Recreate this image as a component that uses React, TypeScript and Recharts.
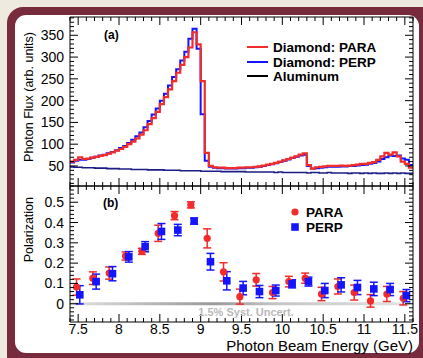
import React from "react";
import { ComposedChart, Line, Scatter, ErrorBar, XAxis, YAxis, ReferenceArea } from "recharts";

const FONT = "'Liberation Sans', Arial, Helvetica, sans-serif";
const RED = "#f22b2b";
const BLUE = "#1414ff";
const NAVY = "#1c1c86";

// flux histograms: 84 bins of 0.05 GeV starting at 7.40 GeV
const BIN_START = 7.4;
const BIN_WIDTH = 0.05;

const FLUX_PARA = [
  60, 64, 70, 66, 67, 69, 71, 73, 75, 78,
  81, 85, 89, 94, 100, 106, 113, 122, 132, 146,
  160, 174, 192, 208, 226, 245, 264, 282, 300, 322,
  357, 329, 245, 80, 50, 47, 46, 46, 45, 45,
  45, 46, 46, 47, 47, 48, 49, 51, 53, 55,
  57, 60, 63, 66, 69, 72, 76, 79, 52, 44,
  47, 48, 49, 50, 50, 50, 51, 50, 51, 52,
  53, 55, 55, 57, 59, 64, 72, 80, 76, 81,
  72, 60, 55, 46,
];

const FLUX_PERP = [
  58, 62, 64, 64, 66, 69, 71, 74, 76, 79,
  82, 86, 91, 96, 103, 110, 118, 127, 139, 153,
  168, 182, 200, 216, 235, 254, 272, 292, 312, 342,
  365, 319, 169, 62, 48, 46, 45, 45, 44, 44,
  44, 45, 45, 46, 46, 47, 48, 50, 52, 54,
  56, 59, 62, 65, 68, 71, 74, 76, 50, 44,
  45, 46, 47, 48, 48, 48, 49, 49, 50, 50,
  51, 52, 53, 55, 57, 60, 66, 70, 74, 73,
  74, 67, 64, 52,
];

const FLUX_AL = [
  48, 47, 47, 46, 46, 46, 45, 45, 45, 44,
  44, 44, 43, 43, 43, 42, 42, 42, 42, 41,
  41, 41, 41, 40, 40, 40, 40, 39, 39, 39,
  39, 39, 38, 38, 38, 38, 38, 37, 37, 37,
  37, 37, 37, 36, 36, 36, 36, 36, 36, 36,
  35, 36, 35, 35, 35, 35, 35, 35, 34, 35,
  35, 34, 34, 35, 34, 34, 34, 34, 33, 34,
  34, 33, 34, 33, 34, 33, 33, 34, 33, 34,
  33, 34, 33, 33,
];

// polarization points (PARA and PERP are drawn slightly offset in energy)
const PARA_E = [7.48, 7.68, 7.88, 8.08, 8.28, 8.48, 8.68, 8.88, 9.08, 9.28, 9.48, 9.68, 9.88, 10.08, 10.28, 10.48, 10.68, 10.88, 11.08, 11.28, 11.48];
const PARA_P = [0.082, 0.126, 0.151, 0.235, 0.258, 0.347, 0.434, 0.487, 0.322, 0.157, 0.035, 0.118, 0.055, 0.109, 0.126, 0.048, 0.085, 0.055, 0.014, 0.048, 0.027];
const PARA_ERR = [0.04, 0.031, 0.03, 0.02, 0.015, 0.04, 0.02, 0.015, 0.047, 0.045, 0.037, 0.031, 0.03, 0.026, 0.025, 0.033, 0.037, 0.037, 0.031, 0.037, 0.033];

const PERP_E = [7.52, 7.72, 7.92, 8.12, 8.32, 8.52, 8.72, 8.92, 9.12, 9.32, 9.52, 9.72, 9.92, 10.12, 10.32, 10.52, 10.72, 10.92, 11.12, 11.32, 11.52];
const PERP_P = [0.044, 0.109, 0.148, 0.231, 0.281, 0.356, 0.363, 0.407, 0.207, 0.113, 0.077, 0.06, 0.065, 0.098, 0.109, 0.065, 0.093, 0.08, 0.073, 0.07, 0.04];
const PERP_ERR = [0.045, 0.037, 0.035, 0.026, 0.025, 0.039, 0.028, 0.015, 0.041, 0.045, 0.033, 0.03, 0.027, 0.02, 0.022, 0.035, 0.035, 0.035, 0.033, 0.03, 0.03];

// axis ticks
const E_MAJOR = [7.5, 8, 8.5, 9, 9.5, 10, 10.5, 11, 11.5];
const FLUX_MAJOR = [50, 100, 150, 200, 250, 300, 350];
const POL_MAJOR = [0, 0.1, 0.2, 0.3, 0.4, 0.5];

const E_DOMAIN: [number, number] = [7.4, 11.6];
const FLUX_DOMAIN: [number, number] = [4, 392];
const POL_DOMAIN: [number, number] = [-0.09, 0.58];

const SYST = 0.015;

function fineTicks(lo: number, hi: number, step: number) {
  const out: number[] = [];
  for (let v = lo; v <= hi + 1e-9; v += step) out.push(Math.round(v * 1000) / 1000);
  return out;
}

const E_TICKS = fineTicks(7.4, 11.6, 0.1);
const FLUX_TICKS = fineTicks(10, 390, 10);
const POL_TICKS = fineTicks(-0.08, 0.58, 0.02);

const fluxRows = FLUX_PARA.map((_, i) => ({
  e: Math.round((BIN_START + i * BIN_WIDTH) * 1000) / 1000,
  para: FLUX_PARA[i],
  perp: FLUX_PERP[i],
  al: FLUX_AL[i],
}));
// closing edge so the last bin gets its full width
fluxRows.push({ ...fluxRows[fluxRows.length - 1], e: E_DOMAIN[1] });

const paraRows = PARA_E.map((e, i) => ({ e, p: PARA_P[i], err: PARA_ERR[i] }));
const perpRows = PERP_E.map((e, i) => ({ e, p: PERP_P[i], err: PERP_ERR[i] }));

type Side = "bottom" | "top" | "left" | "right";

// ROOT-style ticks: pointing into the frame, long on majors
function makeTick(side: Side, majors: number[], withLabel: boolean) {
  return (props: any) => {
    const { x, y, payload } = props;
    const v = payload.value;
    const major = majors.some((m) => Math.abs(m - v) < 1e-6);
    const len = major ? 8 : 4;
    let x2 = x;
    let y2 = y;
    if (side === "bottom") y2 = y - len;
    if (side === "top") y2 = y + len;
    if (side === "left") x2 = x + len;
    if (side === "right") x2 = x - len;
    let label = null;
    if (withLabel && major) {
      label =
        side === "bottom" ? (
          <text x={x} y={y + 12} textAnchor="middle" fontSize={14} fontFamily={FONT} fill="#000">
            {String(v)}
          </text>
        ) : (
          <text x={x - 6} y={y + 5} textAnchor="end" fontSize={14} fontFamily={FONT} fill="#000">
            {String(v)}
          </text>
        );
    }
    return (
      <g>
        <line x1={x} y1={y} x2={x2} y2={y2} stroke="#000" strokeWidth={1} />
        {label}
      </g>
    );
  };
}

const axisCommon = {
  tickSize: 0,
  tickMargin: 0,
  tickLine: false,
  interval: 0 as const,
  allowDataOverflow: true,
  axisLine: { stroke: "#000", strokeWidth: 1 },
};

// frame: x 70..413; panel (a) y 17..186, panel (b) y 186..322
function FluxPanel() {
  return (
    <ComposedChart width={423} height={358} data={fluxRows} margin={{ top: 16, right: 9, bottom: 171, left: 0 }}>
      <XAxis xAxisId="x" type="number" dataKey="e" domain={E_DOMAIN} ticks={E_TICKS} height={1} orientation="bottom" tick={makeTick("bottom", E_MAJOR, false)} {...axisCommon} />
      <XAxis xAxisId="xt" type="number" dataKey="e" domain={E_DOMAIN} ticks={E_TICKS} height={1} orientation="top" tick={makeTick("top", E_MAJOR, false)} {...axisCommon} />
      <YAxis yAxisId="y" type="number" domain={FLUX_DOMAIN} ticks={FLUX_TICKS} width={70} orientation="left" tick={makeTick("left", FLUX_MAJOR, true)} {...axisCommon} />
      <YAxis yAxisId="yr" type="number" domain={FLUX_DOMAIN} ticks={FLUX_TICKS} width={1} orientation="right" tick={makeTick("right", FLUX_MAJOR, false)} {...axisCommon} />
      <Line xAxisId="x" yAxisId="y" type="stepAfter" dataKey="al" stroke={NAVY} strokeWidth={1.6} dot={false} isAnimationActive={false} />
      <Line xAxisId="x" yAxisId="y" type="stepAfter" dataKey="perp" stroke={BLUE} strokeWidth={2} dot={false} isAnimationActive={false} />
      <Line xAxisId="x" yAxisId="y" type="stepAfter" dataKey="para" stroke={RED} strokeWidth={2.2} dot={false} isAnimationActive={false} />
    </ComposedChart>
  );
}

const circleShape = (props: any) => <circle cx={props.cx} cy={props.cy} r={3.6} fill={RED} />;
const squareShape = (props: any) => <rect x={props.cx - 3.8} y={props.cy - 3.8} width={7.6} height={7.6} fill={BLUE} />;

function PolPanel() {
  return (
    <ComposedChart width={423} height={358} margin={{ top: 185, right: 9, bottom: 35, left: 0 }}>
      <defs>
        <linearGradient id="systFill" x1="0" y1="0" x2="1" y2="0">
          <stop offset="0%" stopColor="#e2e2e2" />
          <stop offset="25%" stopColor="#b4b4b4" />
          <stop offset="42%" stopColor="#9a9a9a" />
          <stop offset="60%" stopColor="#c4c4c4" />
          <stop offset="100%" stopColor="#e4e4e4" />
        </linearGradient>
      </defs>
      <XAxis xAxisId="x" type="number" dataKey="e" domain={E_DOMAIN} ticks={E_TICKS} height={1} orientation="bottom" tick={makeTick("bottom", E_MAJOR, true)} {...axisCommon} />
      <XAxis xAxisId="xt" type="number" dataKey="e" domain={E_DOMAIN} ticks={E_TICKS} height={1} orientation="top" tick={makeTick("top", E_MAJOR, false)} {...axisCommon} />
      <YAxis yAxisId="y" type="number" dataKey="p" domain={POL_DOMAIN} ticks={POL_TICKS} width={70} orientation="left" tick={makeTick("left", POL_MAJOR, true)} {...axisCommon} />
      <YAxis yAxisId="yr" type="number" dataKey="p" domain={POL_DOMAIN} ticks={POL_TICKS} width={1} orientation="right" tick={makeTick("right", POL_MAJOR, false)} {...axisCommon} />
      <ReferenceArea xAxisId="x" yAxisId="y" x1={E_DOMAIN[0]} x2={E_DOMAIN[1]} y1={-SYST / 2} y2={SYST / 2} fill="url(#systFill)" fillOpacity={1} stroke="none" />
      <Scatter xAxisId="x" yAxisId="y" data={paraRows} dataKey="p" shape={circleShape} isAnimationActive={false}>
        <ErrorBar dataKey="err" direction="y" width={4} stroke={RED} strokeWidth={1.5} />
      </Scatter>
      <Scatter xAxisId="x" yAxisId="y" data={perpRows} dataKey="p" shape={squareShape} isAnimationActive={false}>
        <ErrorBar dataKey="err" direction="y" width={4} stroke={BLUE} strokeWidth={1.5} />
      </Scatter>
    </ComposedChart>
  );
}

function Annotations() {
  const bold = { fontFamily: FONT, fontWeight: 700 as const };
  return (
    <svg width={423} height={358} style={{ position: "absolute", left: 0, top: 0, pointerEvents: "none" }}>
      <text transform="translate(33,32) rotate(-90)" textAnchor="end" fontSize={12.5} fontFamily={FONT} fill="#000">
        Photon Flux (arb. units)
      </text>
      <text transform="translate(33,197) rotate(-90)" textAnchor="end" fontSize={12.5} fontFamily={FONT} fill="#000">
        Polarization
      </text>
      <text x={413} y={351} textAnchor="end" fontSize={15} fontFamily={FONT} fill="#000">
        Photon Beam Energy (GeV)
      </text>
      <text x={104} y={39} fontSize={12} {...bold} fill="#000">(a)</text>
      <text x={103} y={207} fontSize={12} {...bold} fill="#000">(b)</text>

      <line x1={247} x2={268} y1={47} y2={47} stroke={RED} strokeWidth={2} />
      <line x1={247} x2={268} y1={62} y2={62} stroke={BLUE} strokeWidth={2} />
      <line x1={247} x2={268} y1={76} y2={76} stroke="#000" strokeWidth={2} />
      <text x={273} y={52} fontSize={13.5} {...bold} fill="#000">Diamond: PARA</text>
      <text x={273} y={67} fontSize={13.5} {...bold} fill="#000">Diamond: PERP</text>
      <text x={273} y={81} fontSize={13.5} {...bold} fill="#000">Aluminum</text>

      <circle cx={295} cy={212} r={3.6} fill={RED} />
      <rect x={291.2} y={223.2} width={7.6} height={7.6} fill={BLUE} />
      <text x={306} y={217} fontSize={13.5} {...bold} fill="#000">PARA</text>
      <text x={306} y={232} fontSize={13.5} {...bold} fill="#000">PERP</text>

      <text x={246} y={316} textAnchor="middle" fontSize={11} {...bold} fill="#b9b9b9">
        1.5% Syst. Uncert.
      </text>
    </svg>
  );
}

export default function App() {
  return (
    <div style={{ position: "absolute", left: 0, top: 0, width: 423, height: 358, overflow: "hidden", background: "#efeae0" }}>
      <div style={{ position: "absolute", left: 7, top: 7, width: 430, height: 365, borderRadius: 16, background: "#782b3c" }} />
      <div style={{ position: "absolute", left: 15, top: 15, width: 404, height: 338, borderRadius: 11, background: "#fff" }} />
      <div style={{ position: "absolute", left: 0, top: 0 }}>
        <FluxPanel />
      </div>
      <div style={{ position: "absolute", left: 0, top: 0 }}>
        <PolPanel />
      </div>
      <Annotations />
    </div>
  );
}
